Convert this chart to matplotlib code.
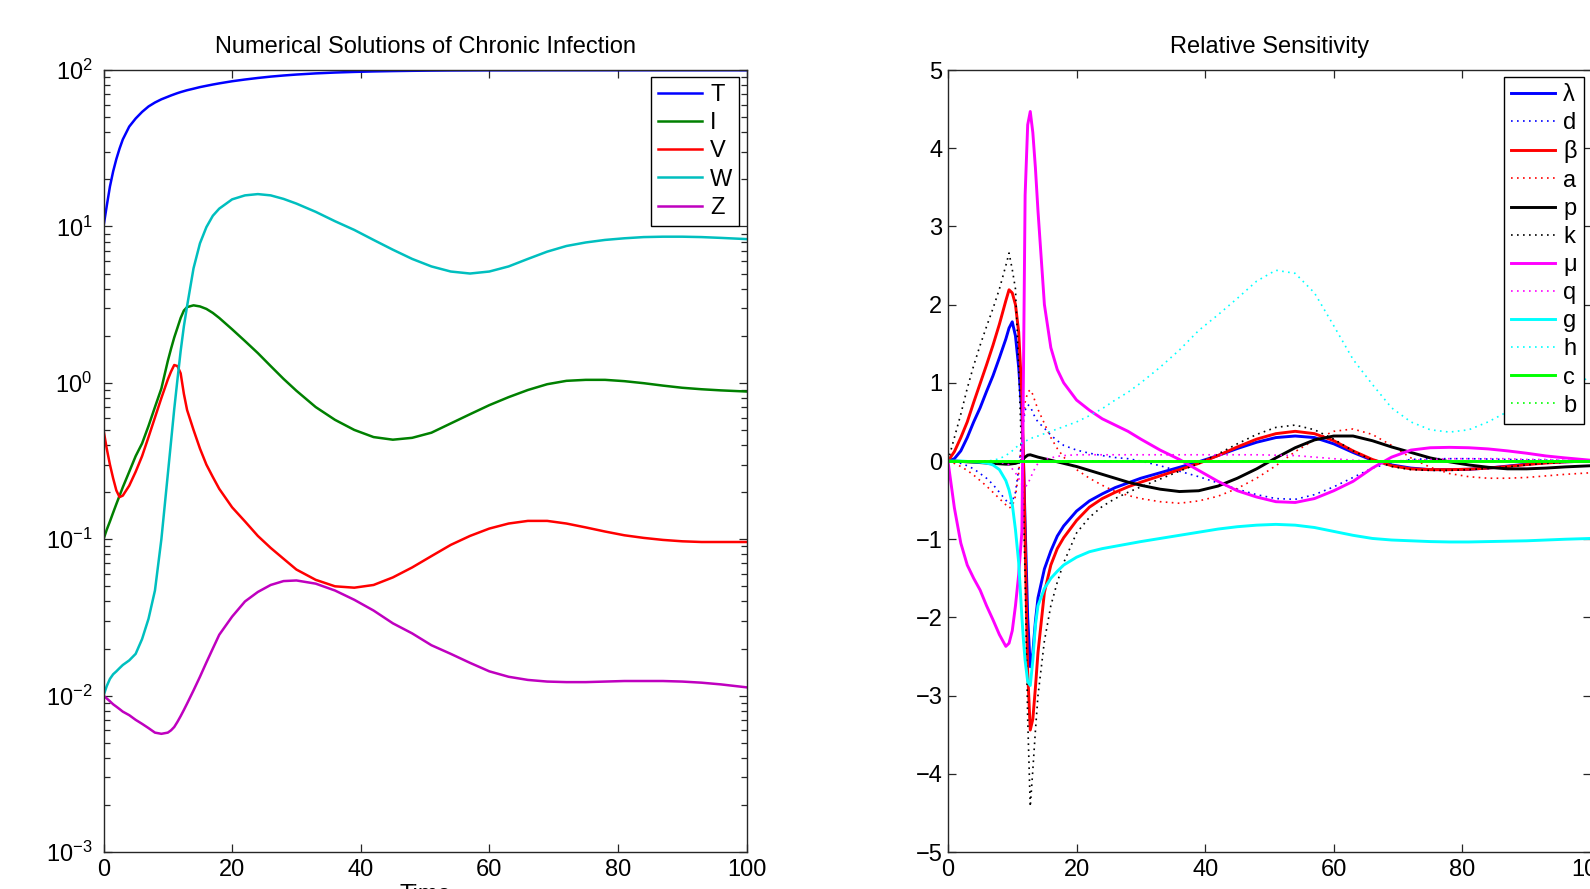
import numpy as np
import matplotlib
matplotlib.use('Agg')
import matplotlib.pyplot as plt
from matplotlib.ticker import LogLocator, NullFormatter

plt.rcParams['font.family'] = ['Liberation Sans', 'DejaVu Sans']
plt.rcParams['mathtext.fontset'] = 'custom'
plt.rcParams['mathtext.rm'] = 'Liberation Sans'
plt.rcParams['mathtext.it'] = 'Liberation Sans:italic'
plt.rcParams['mathtext.default'] = 'regular'

# ---- left panel: state variables (log scale) ----
t_left = [0, 0.5, 1, 1.5, 2, 2.5, 3, 4, 5, 6, 7, 8, 9, 10, 10.5, 11, 11.5, 12, 12.5, 13,
          14, 15, 16, 17, 18, 20, 22, 24, 26, 28, 30, 33, 36, 39, 42, 45, 48, 51, 54, 57,
          60, 63, 66, 69, 72, 75, 78, 81, 84, 87, 90, 93, 96, 100]

T_vals = [10, 13.5, 18, 22.5, 27, 31.5, 36, 43.5, 49, 54, 58.5, 62, 65, 67.5, 68.8, 70, 71.2,
          72.3, 73.3, 74.3, 76, 77.8, 79.3, 80.8, 82.2, 84.8, 87, 89, 90.8, 92.3, 93.6, 95.2,
          96.4, 97.3, 98, 98.5, 98.9, 99.2, 99.4, 99.5, 99.6, 99.6, 99.65, 99.7, 99.7, 99.7,
          99.7, 99.7, 99.7, 99.7, 99.7, 99.7, 99.7, 99.7]
I_vals = [0.1, 0.115, 0.13, 0.148, 0.168, 0.19, 0.215, 0.27, 0.34, 0.41, 0.53, 0.7, 0.92, 1.38,
          1.65, 1.95, 2.25, 2.6, 2.9, 3.05, 3.13, 3.08, 2.97, 2.8, 2.6, 2.2, 1.85, 1.55, 1.28,
          1.06, 0.89, 0.7, 0.58, 0.5, 0.45, 0.433, 0.445, 0.48, 0.55, 0.63, 0.72, 0.81, 0.9,
          0.98, 1.03, 1.045, 1.045, 1.025, 0.995, 0.96, 0.93, 0.91, 0.895, 0.88]
V_vals = [0.5, 0.38, 0.3, 0.245, 0.205, 0.186, 0.19, 0.22, 0.27, 0.34, 0.45, 0.6, 0.8, 1.05,
          1.18, 1.3, 1.28, 1.15, 0.85, 0.67, 0.5, 0.38, 0.3, 0.25, 0.21, 0.16, 0.13, 0.105,
          0.088, 0.075, 0.064, 0.055, 0.05, 0.049, 0.051, 0.057, 0.066, 0.078, 0.092, 0.105,
          0.117, 0.126, 0.131, 0.131, 0.126, 0.119, 0.112, 0.106, 0.102, 0.099, 0.097, 0.096,
          0.096, 0.096]
W_vals = [0.01, 0.0115, 0.0128, 0.0137, 0.0143, 0.015, 0.0157, 0.0168, 0.0185, 0.023, 0.031,
          0.047, 0.1, 0.26, 0.42, 0.68, 1.05, 1.6, 2.3, 3.1, 5.4, 7.8, 9.9, 11.7, 13.0, 14.9,
          15.8, 16.1, 15.8, 15.0, 14.0, 12.4, 10.8, 9.5, 8.2, 7.1, 6.2, 5.55, 5.15, 5.0, 5.15,
          5.55, 6.2, 6.9, 7.5, 7.9, 8.2, 8.4, 8.55, 8.6, 8.6, 8.55, 8.45, 8.3]
Z_vals = [0.01, 0.0096, 0.0092, 0.0088, 0.0085, 0.0082, 0.0079, 0.0075, 0.007, 0.0066, 0.0062,
          0.0058, 0.0057, 0.0058, 0.006, 0.0063, 0.0068, 0.0074, 0.0081, 0.0089, 0.0108,
          0.0132, 0.0163, 0.02, 0.0245, 0.032, 0.04, 0.046, 0.051, 0.054, 0.0545, 0.052, 0.047,
          0.041, 0.035, 0.029, 0.025, 0.021, 0.0185, 0.0162, 0.0143, 0.0132, 0.0126, 0.0123,
          0.0122, 0.0122, 0.0123, 0.0124, 0.0124, 0.0124, 0.0123, 0.0121, 0.0118, 0.0113]

left_names = ['T', 'I', 'V', 'W', 'Z']
left_colors = ['#0000ff', '#008000', '#ff0000', '#00bfbf', '#bf00bf']

# ---- right panel: relative sensitivities ----
t_right = [0, 1, 2, 3, 4, 5, 6, 7, 8, 9, 9.5, 10, 10.5, 11, 11.5, 11.75, 12, 12.4, 12.8, 13.2,
           13.6, 14, 15, 16, 17, 18, 20, 22, 24, 26, 28, 30, 33, 36, 39, 42, 45, 48, 51, 54,
           57, 60, 63, 66, 69, 72, 75, 78, 81, 84, 87, 90, 93, 96, 100]

s_lambda = [0, 0.03, 0.13, 0.3, 0.5, 0.68, 0.89, 1.09, 1.32, 1.56, 1.7, 1.78, 1.6, 1.2, 0.6, 0.0,
            -0.8, -2.0, -2.63, -2.45, -2.05, -1.75, -1.38, -1.15, -0.96, -0.83, -0.64, -0.51,
            -0.42, -0.34, -0.28, -0.22, -0.15, -0.08, -0.01, 0.07, 0.16, 0.24, 0.3, 0.32, 0.3,
            0.22, 0.11, 0.01, -0.05, -0.09, -0.11, -0.11, -0.105, -0.09, -0.065, -0.04, -0.02,
            -0.01, 0.0]
s_d = [0, -0.01, -0.03, -0.06, -0.1, -0.16, -0.22, -0.3, -0.4, -0.5, -0.55, -0.52, -0.4, -0.1,
       0.3, 0.5, 0.65, 0.72, 0.7, 0.62, 0.55, 0.5, 0.42, 0.33, 0.26, 0.2, 0.14, 0.1, 0.07, 0.045,
       0.03, 0.0, -0.06, -0.13, -0.2, -0.28, -0.36, -0.43, -0.48, -0.49, -0.43, -0.33, -0.21,
       -0.09, -0.02, 0.02, 0.03, 0.03, 0.03, 0.025, 0.02, 0.015, 0.01, 0.005, 0.0]
s_beta = [0, 0.12, 0.3, 0.5, 0.75, 0.99, 1.23, 1.48, 1.75, 2.05, 2.19, 2.15, 2.0, 1.65, 0.85, 0.0,
          -1.0, -2.7, -3.44, -3.3, -2.9, -2.45, -1.68, -1.33, -1.12, -0.98, -0.76, -0.59, -0.48,
          -0.4, -0.33, -0.27, -0.19, -0.11, -0.03, 0.07, 0.18, 0.28, 0.35, 0.38, 0.35, 0.26,
          0.13, 0.02, -0.06, -0.1, -0.11, -0.11, -0.105, -0.09, -0.07, -0.045, -0.025, -0.01,
          0.0]
s_a = [0, -0.03, -0.07, -0.12, -0.18, -0.25, -0.32, -0.4, -0.48, -0.56, -0.6, -0.58, -0.45,
       -0.15, 0.3, 0.55, 0.75, 0.88, 0.91, 0.85, 0.75, 0.66, 0.48, 0.3, 0.16, 0.05, -0.11, -0.22,
       -0.31, -0.39, -0.44, -0.48, -0.52, -0.54, -0.51, -0.45, -0.35, -0.22, -0.06, 0.12, 0.27,
       0.38, 0.41, 0.34, 0.2, 0.04, -0.08, -0.16, -0.2, -0.22, -0.22, -0.21, -0.19, -0.17,
       -0.15]
s_p = [0, 0, -0.005, -0.01, -0.015, -0.02, -0.025, -0.03, -0.035, -0.04, -0.04, -0.035, -0.03,
       -0.015, 0.01, 0.03, 0.05, 0.075, 0.08, 0.07, 0.06, 0.05, 0.03, 0.01, -0.01, -0.03, -0.07,
       -0.12, -0.17, -0.22, -0.27, -0.31, -0.36, -0.39, -0.38, -0.32, -0.22, -0.1, 0.04, 0.17,
       0.27, 0.32, 0.32, 0.26, 0.18, 0.11, 0.04, -0.01, -0.05, -0.08, -0.1, -0.1, -0.09, -0.075,
       -0.06]
s_k = [0, 0.3, 0.6, 0.93, 1.22, 1.48, 1.72, 1.95, 2.2, 2.5, 2.66, 2.45, 2.2, 1.2, 0.0, -0.6,
       -1.5, -3.3, -4.42, -3.95, -3.45, -3.0, -2.3, -1.85, -1.55, -1.3, -0.92, -0.72, -0.58,
       -0.48, -0.4, -0.33, -0.23, -0.13, -0.03, 0.09, 0.22, 0.34, 0.43, 0.46, 0.4, 0.28, 0.13,
       0.01, -0.07, -0.11, -0.12, -0.12, -0.11, -0.095, -0.075, -0.05, -0.03, -0.015, 0.0]
s_mu = [0, -0.6, -1.05, -1.33, -1.5, -1.65, -1.85, -2.03, -2.22, -2.37, -2.33, -2.17, -1.85,
        -1.45, -0.9, 1.2, 3.4, 4.3, 4.47, 4.2, 3.75, 3.2, 2.0, 1.45, 1.17, 1.0, 0.78, 0.65, 0.54,
        0.46, 0.38, 0.28, 0.14, 0.02, -0.12, -0.26, -0.38, -0.46, -0.52, -0.53, -0.48, -0.38,
        -0.26, -0.09, 0.05, 0.14, 0.17, 0.175, 0.17, 0.155, 0.13, 0.1, 0.065, 0.04, 0.01]
s_q = [0, 0, 0, 0, 0, 0, 0, -0.01, -0.02, -0.03, -0.05, -0.1, -0.15, -0.22, -0.3, -0.32, -0.33,
       -0.3, -0.22, -0.15, -0.08, -0.03, 0.02, 0.04, 0.06, 0.07, 0.08, 0.08, 0.08, 0.08, 0.08,
       0.08, 0.08, 0.08, 0.08, 0.08, 0.08, 0.08, 0.075, 0.07, 0.05, 0.03, 0.01, 0.0, 0.0, 0.01,
       0.02, 0.03, 0.03, 0.03, 0.03, 0.02, 0.02, 0.01, 0.01]
s_g = [0, 0, 0, -0.005, -0.01, -0.015, -0.025, -0.05, -0.11, -0.25, -0.37, -0.55, -0.88, -1.3,
       -2.0, -2.3, -2.55, -2.82, -2.87, -2.55, -2.1, -1.85, -1.63, -1.5, -1.41, -1.33, -1.23,
       -1.16, -1.12, -1.09, -1.06, -1.03, -0.99, -0.95, -0.91, -0.87, -0.84, -0.82, -0.81,
       -0.82, -0.85, -0.9, -0.95, -0.99, -1.01, -1.02, -1.03, -1.035, -1.035, -1.03, -1.025,
       -1.02, -1.01, -1.0, -0.99]
s_h = [0, 0, 0, 0, 0, 0, 0, 0.01, 0.03, 0.07, 0.1, 0.13, 0.17, 0.2, 0.23, 0.24, 0.25, 0.27,
       0.28, 0.3, 0.31, 0.32, 0.35, 0.38, 0.41, 0.44, 0.5, 0.58, 0.67, 0.78, 0.88, 1.0, 1.2,
       1.42, 1.67, 1.87, 2.08, 2.3, 2.44, 2.4, 2.15, 1.73, 1.3, 0.98, 0.68, 0.5, 0.4, 0.37,
       0.4, 0.5, 0.63, 0.78, 0.9, 0.99, 1.06]
s_c = [0.0] * len(t_right)
s_b = [0.0] * len(t_right)

right_names = ['\u03bb', 'd', '\u03b2', 'a', 'p', 'k', '\u03bc', 'q', 'g', 'h', 'c', 'b']
right_colors = ['#0000ff', '#0000ff', '#ff0000', '#ff0000', '#000000', '#000000',
                '#ff00ff', '#ff00ff', '#00ffff', '#00ffff', '#00ff00', '#00ff00']

fs = 17
ax_col = '#262626'

fig = plt.figure(figsize=(15.9, 8.89), dpi=100)


def style_axes(ax):
    for sp in ax.spines.values():
        sp.set_linewidth(1.0)
        sp.set_color(ax_col)
    ax.tick_params(which='both', direction='in', top=True, right=True,
                   colors=ax_col, labelcolor='k', labelsize=fs, width=0.9)
    ax.tick_params(which='major', length=6)
    ax.tick_params(which='minor', length=4)
    ax.tick_params(axis='x', pad=5)


def add_legend(ax):
    leg = ax.legend(loc='upper right', fontsize=fs, fancybox=False, edgecolor='k',
                    framealpha=1, handlelength=1.85, handletextpad=0.35, labelspacing=0.26,
                    borderpad=0.3, borderaxespad=0.3)
    leg.get_frame().set_linewidth(1.0)
    return leg


# left
ax1 = fig.add_axes([0.0651, 0.0416, 0.4044, 0.8796])
left_series = [T_vals, I_vals, V_vals, W_vals, Z_vals]
for name, vals, col in zip(left_names, left_series, left_colors):
    ax1.plot(t_left, vals, color=col, lw=1.8, label=name)
ax1.set_yscale('log')
ax1.set_xlim(0, 100)
ax1.set_ylim(1e-3, 1e2)
ax1.set_xticks([0, 20, 40, 60, 80, 100])
ax1.yaxis.set_major_locator(LogLocator(base=10, numticks=10))
ax1.yaxis.set_minor_locator(LogLocator(base=10, subs=np.arange(2, 10), numticks=20))
ax1.yaxis.set_minor_formatter(NullFormatter())
style_axes(ax1)
ax1.tick_params(axis='y', pad=8)
ax1.set_title('Numerical Solutions of Chronic Infection', fontsize=fs, pad=12)
ax1.set_xlabel('Time', fontsize=fs, labelpad=2)
add_legend(ax1)

# right
ax2 = fig.add_axes([0.5962, 0.0416, 0.4044, 0.8796])
right_series = [s_lambda, s_d, s_beta, s_a, s_p, s_k, s_mu, s_q, s_g, s_h, s_c, s_b]
for i, (name, vals, col) in enumerate(zip(right_names, right_series, right_colors)):
    if i % 2 == 0:
        ax2.plot(t_right, vals, color=col, lw=2.1, label=name)
    else:
        ax2.plot(t_right, vals, color=col, lw=1.2, linestyle=(0, (1, 2.6)), label=name)
ax2.set_xlim(0, 100)
ax2.set_ylim(-5, 5)
ax2.set_xticks([0, 20, 40, 60, 80, 100])
ax2.set_yticks([-5, -4, -3, -2, -1, 0, 1, 2, 3, 4, 5])
style_axes(ax2)
ax2.tick_params(axis='y', pad=4)
ax2.set_title('Relative Sensitivity', fontsize=fs, pad=12)
add_legend(ax2)

fig.savefig('out.png', dpi=100)
